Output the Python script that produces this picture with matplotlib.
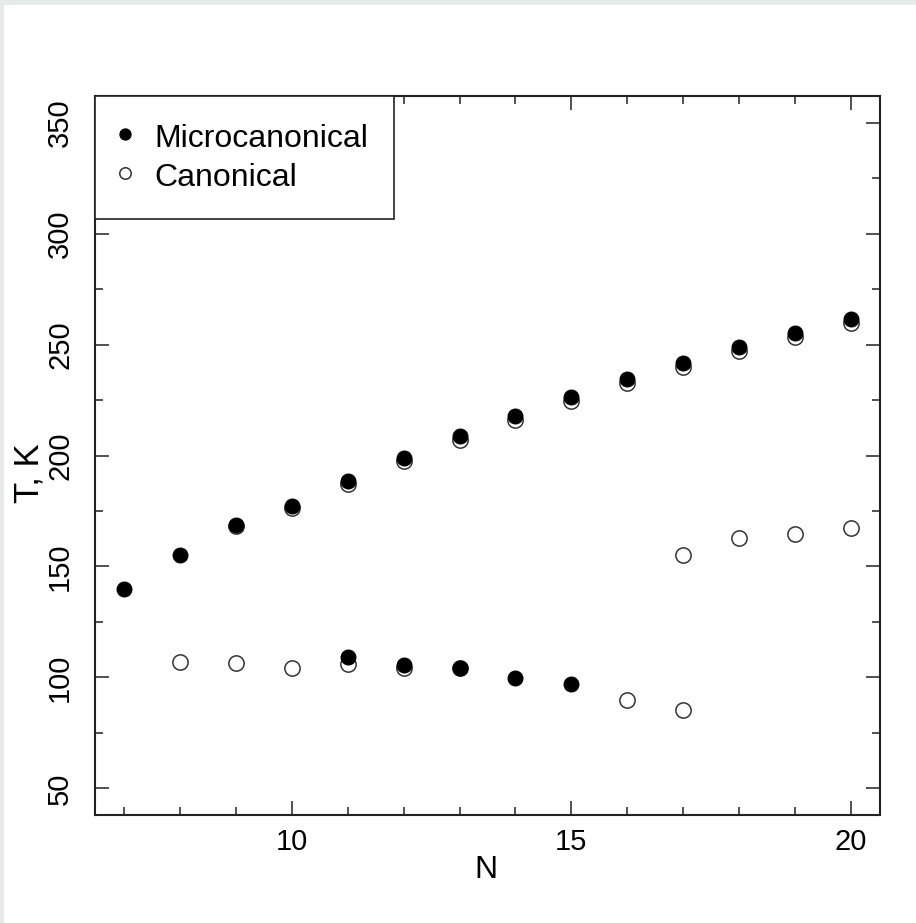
import matplotlib
matplotlib.use("Agg")
import matplotlib.pyplot as plt
from matplotlib.patches import Rectangle
from matplotlib.ticker import MultipleLocator

# microcanonical temperature (filled dots)
N_micro = [7, 8, 9, 10, 11, 12, 13, 14, 15, 16, 17, 18, 19, 20,
           11, 12, 13, 14, 15]
T_micro = [139.7, 155.3, 168.6, 177.1, 188.5, 198.7, 208.6, 218.0, 226.3,
           234.4, 241.6, 248.8, 255.3, 261.3,
           109.1, 105.4, 104.3, 99.7, 97.2]

# canonical temperature (open circles)
N_canon = [9, 10, 11, 12, 13, 14, 15, 16, 17, 18, 19, 20,
           8, 9, 10, 11, 12, 13, 16, 17,
           17, 18, 19, 20]
T_canon = [168.2, 176.3, 187.3, 197.6, 207.2, 216.2, 224.5, 232.5, 239.7,
           246.9, 253.5, 259.5,
           106.8, 106.3, 104.3, 106.2, 104.3, 104.3, 89.6, 85.4,
           155.3, 162.9, 164.7, 167.2]

x_ticks = [10, 15, 20]
y_ticks = [50, 100, 150, 200, 250, 300, 350]

FONT = ["Liberation Sans", "DejaVu Sans"]

fig = plt.figure(figsize=(9.16, 9.23), dpi=100, facecolor="white")
# thin grey page border on top and left
fig.patches.append(Rectangle((0, 1 - 5 / 923), 1, 5 / 923, transform=fig.transFigure,
                             facecolor="#e4ebe8", edgecolor="none"))
fig.patches.append(Rectangle((0, 0), 4 / 916, 1, transform=fig.transFigure,
                             facecolor="#e4ebe8", edgecolor="none"))

ax = fig.add_axes([95 / 916, 1 - 815 / 923, 785 / 916, 719 / 923])

ax.plot(N_canon, T_canon, "o", ms=11, mfc="none", mec="#333333", mew=1.1,
        label="Canonical", zorder=3)
ax.plot(N_micro, T_micro, "o", ms=10.5, mfc="black", mec="black", mew=1,
        label="Microcanonical", zorder=4)

ax.set_xlim(6.48, 20.52)
ax.set_ylim(38, 362)
ax.set_xticks(x_ticks)
ax.set_yticks(y_ticks)
ax.xaxis.set_minor_locator(MultipleLocator(1))
ax.yaxis.set_minor_locator(MultipleLocator(25))

ax.tick_params(which="both", direction="in", top=True, right=True, width=1.1,
               color="#222222")
ax.tick_params(which="major", length=10, pad=9, labelsize=21)
ax.tick_params(which="minor", length=5.5)
ax.tick_params(axis="y", which="major", labelrotation=90, pad=15)
for lab in ax.get_xticklabels() + ax.get_yticklabels():
    lab.set_family(FONT)
for lab in ax.get_yticklabels():
    lab.set_va("center")

for sp in ax.spines.values():
    sp.set_linewidth(1.5)
    sp.set_color("#222222")

ax.set_xlabel("N", fontsize=23, family=FONT, va="center")
ax.xaxis.set_label_coords(0.4975, (815 - 870) / 719)
ax.set_ylabel("T, K", fontsize=25, family=FONT, va="center", ha="center")
ax.yaxis.set_label_coords((29 - 95) / 785, 0.475)

handles, labels = ax.get_legend_handles_labels()
leg = ax.legend(handles[::-1], labels[::-1], loc="upper left",
                bbox_to_anchor=(0, 1), borderaxespad=0, fancybox=False,
                framealpha=1, edgecolor="#222222", markerscale=0.75,
                prop={"family": FONT, "size": 23},
                borderpad=0.8, handlelength=0.25, handletextpad=0.8,
                handleheight=1.0, labelspacing=0.22)
leg.get_frame().set_linewidth(1.2)

fig.savefig("out.png", dpi=100, facecolor="white")
